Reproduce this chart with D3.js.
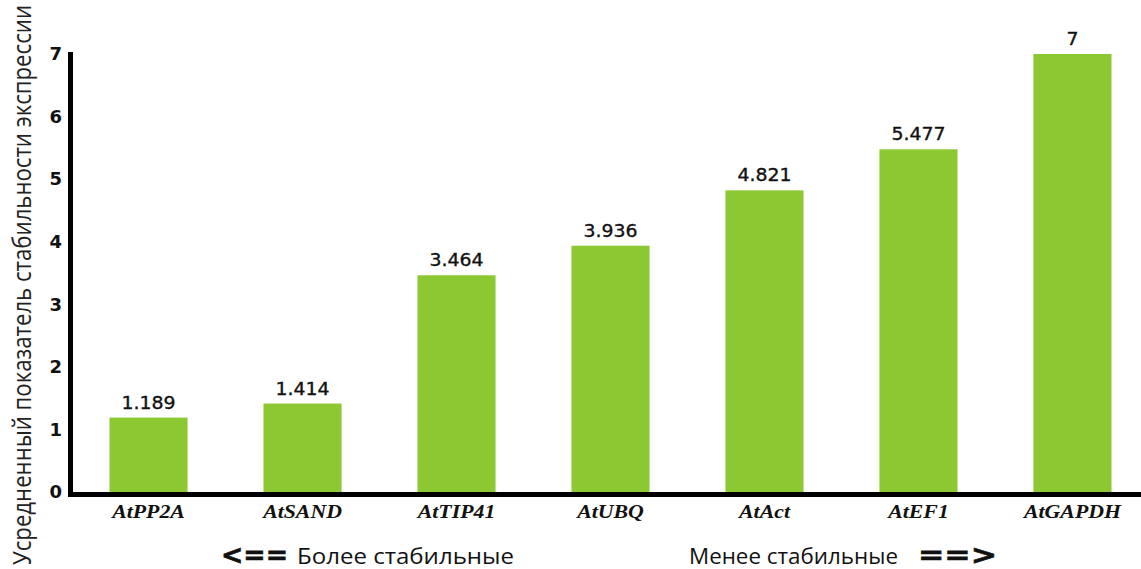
<!DOCTYPE html>
<html>
<head>
<meta charset="utf-8">
<script src="https://cdn.jsdelivr.net/npm/d3@7"></script>
<style>
  html, body { margin: 0; padding: 0; background: #fff; }
  svg { display: block; }
</style>
</head>
<body>
<svg id="chart" width="1141" height="569"></svg>
<script>
const categories = ["AtPP2A", "AtSAND", "AtTIP41", "AtUBQ", "AtAct", "AtEF1", "AtGAPDH"];
const values = [1.189, 1.414, 3.464, 3.936, 4.821, 5.477, 7];
const valueLabels = ["1.189", "1.414", "3.464", "3.936", "4.821", "5.477", "7"];
const yTicks = [0, 1, 2, 3, 4, 5, 6, 7];
const yTitle = "Усредненный показатель стабильности экспрессии";
const leftArrow = "<==";
const leftNote = "Более стабильные";
const rightNote = "Менее стабильные";
const rightArrow = "==>";

const svg = d3.select("#chart");
const W = 1141, H = 569;
const axisX = 70.5;

const x = d3.scaleBand()
  .domain(categories)
  .range([71, 1150])
  .paddingInner(0.493)
  .paddingOuter(0.25);

const y = d3.scaleLinear()
  .domain([0, 7])
  .range([492, 54]);

const barColor = "#8cc832";
const rows = categories.map((c, i) => ({ c, v: values[i], l: valueLabels[i] }));

// bars
svg.append("g").selectAll("rect")
  .data(rows)
  .join("rect")
  .attr("x", d => x(d.c))
  .attr("y", d => y(d.v))
  .attr("width", x.bandwidth())
  .attr("height", d => y(0) - y(d.v))
  .attr("fill", barColor);

// value labels
svg.append("g").selectAll("g")
  .data(rows)
  .join("g")
  .attr("transform", d => `translate(${x(d.c) + x.bandwidth() / 2},${y(d.v) - 9}) scale(1.05,1)`)
  .append("text")
  .attr("text-anchor", "middle")
  .attr("font-family", "DejaVu Sans")
  .attr("font-size", 18)
  .attr("fill", "#111")
  .attr("stroke", "#111")
  .attr("stroke-width", 0.35)
  .text(d => d.l);

// y axis
const yAxis = svg.append("g")
  .attr("transform", `translate(${axisX},0)`)
  .call(d3.axisLeft(y).tickValues(yTicks).tickSize(0).tickPadding(8.5).tickFormat(d3.format("d")));
yAxis.select(".domain").remove();
yAxis.selectAll("text")
  .attr("font-family", "DejaVu Sans")
  .attr("font-weight", "bold")
  .attr("font-size", 18)
  .attr("fill", "#111");

// x axis
const xAxis = svg.append("g")
  .attr("transform", `translate(0,${y(0)})`)
  .call(d3.axisBottom(x).tickSize(0).tickPadding(13));
xAxis.select(".domain").remove();
xAxis.selectAll("text")
  .attr("font-family", "Liberation Serif")
  .attr("font-style", "italic")
  .attr("font-weight", "bold")
  .attr("font-size", 18.5)
  .attr("fill", "#111")
  .attr("transform", "scale(1.18,1)");

// axis lines
svg.append("line")
  .attr("x1", axisX).attr("x2", axisX)
  .attr("y1", y(7) - 2).attr("y2", y(0) + 5)
  .attr("stroke", "#000").attr("stroke-width", 5);
svg.append("line")
  .attr("x1", axisX - 2.5).attr("x2", W)
  .attr("y1", y(0) + 2.5).attr("y2", y(0) + 2.5)
  .attr("stroke", "#000").attr("stroke-width", 5);

// y title
svg.append("text")
  .attr("transform", `translate(31,285) rotate(-90) scale(1,1.12)`)
  .attr("text-anchor", "middle")
  .attr("font-family", "Open Sans")
  .attr("font-size", 22)
  .attr("fill", "#222")
  .attr("textLength", 560)
  .attr("lengthAdjust", "spacingAndGlyphs")
  .text(yTitle);

// bottom notes
const noteY = 564;
function note(txt, x0, len, opts) {
  svg.append("text")
    .attr("x", x0).attr("y", noteY)
    .attr("font-family", opts.family)
    .attr("font-weight", opts.weight || "normal")
    .attr("font-size", opts.size)
    .attr("fill", "#111")
    .attr("stroke", opts.stroke ? "#111" : "none")
    .attr("stroke-width", opts.stroke || 0)
    .attr("textLength", len)
    .attr("lengthAdjust", "spacingAndGlyphs")
    .text(txt);
}
note(leftArrow, 221, 67, { family: "DejaVu Sans", weight: "bold", size: 26, stroke: 0.6 });
note(leftNote, 297, 217, { family: "Open Sans", size: 21 });
note(rightNote, 689, 209, { family: "Open Sans", size: 21 });
note(rightArrow, 918, 79, { family: "DejaVu Sans", weight: "bold", size: 26, stroke: 0.6 });
</script>
</body>
</html>
